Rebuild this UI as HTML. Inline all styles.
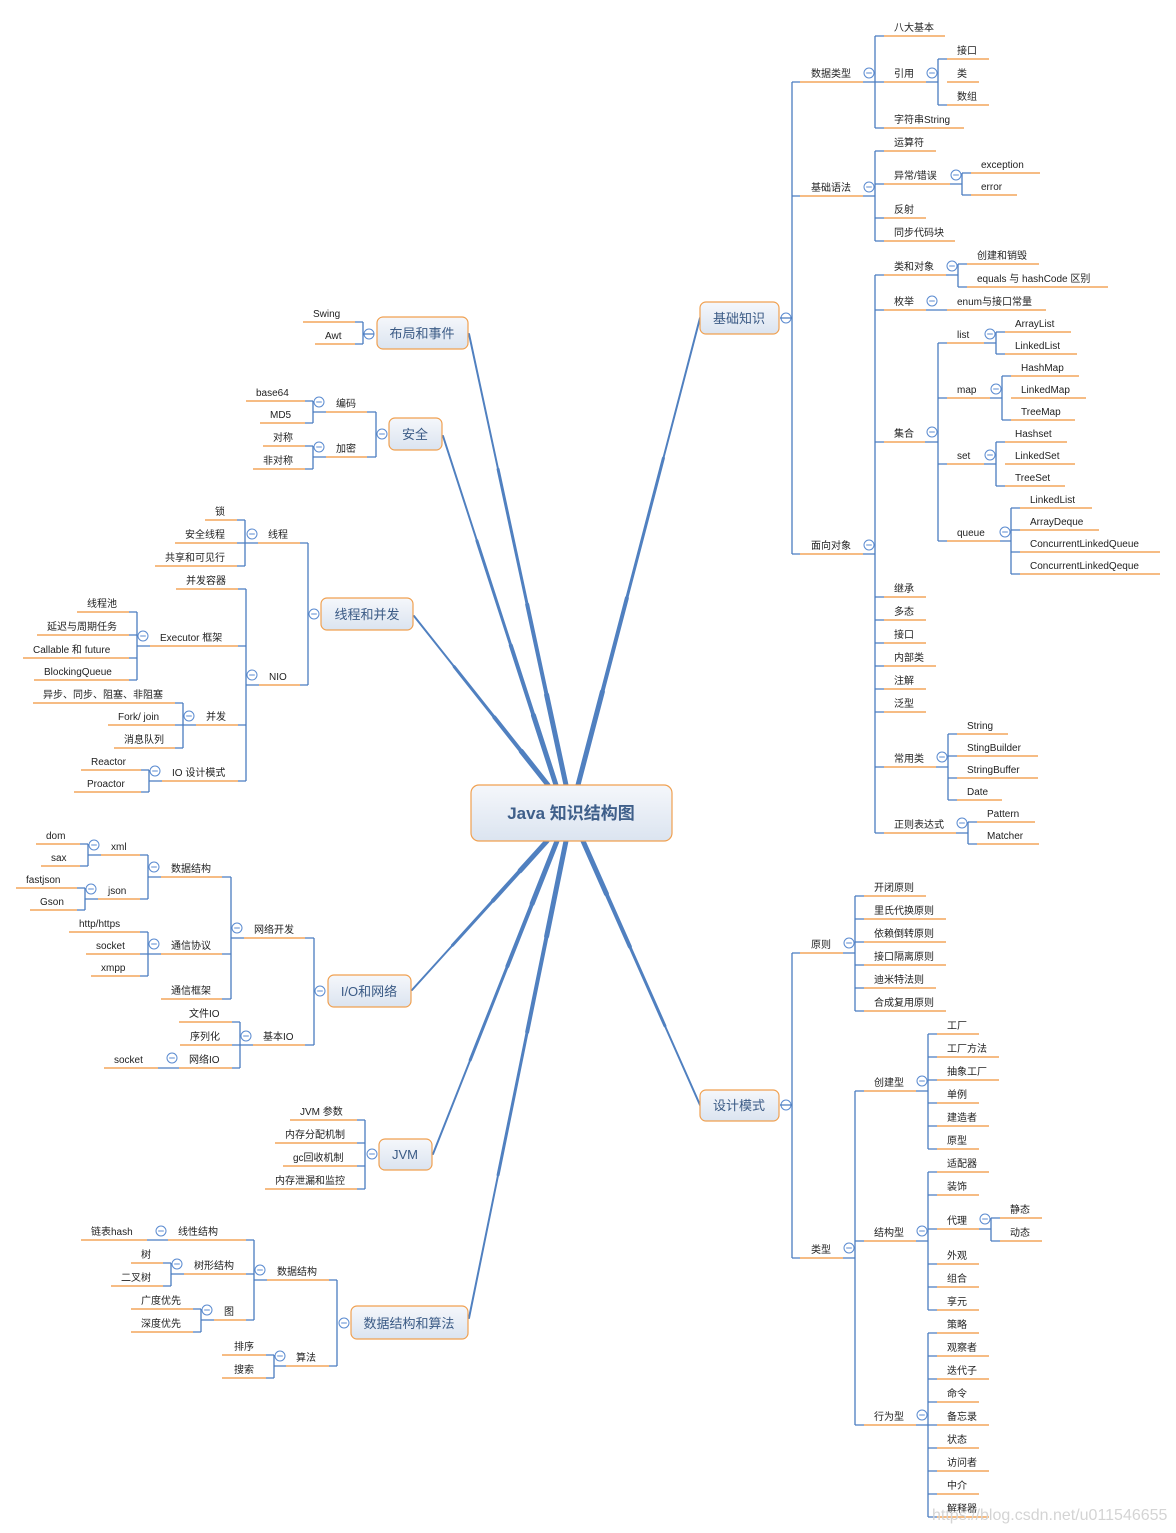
<!DOCTYPE html>
<html><head><meta charset="utf-8"><style>
html,body{margin:0;padding:0;background:#fff}
svg{display:block}
text{font-family:"Liberation Sans","Noto Sans CJK SC",sans-serif;font-size:10px;fill:#222}
.o{stroke:#f0943a;stroke-width:1.3;fill:none}
.b{stroke:#4a7cc0;stroke-width:1.3;fill:none}
.c{stroke:#5b8bd0;stroke-width:1;fill:#fff}
.bx{fill:url(#g);stroke:#f0a050;stroke-width:1.2}
.bt{font-size:13px;fill:#3a5a85;text-anchor:middle}
.t{stroke:#5080c0;fill:none;stroke-linecap:round}
</style></head><body>
<svg width="1176" height="1533" viewBox="0 0 1176 1533" xmlns="http://www.w3.org/2000/svg">
<defs><linearGradient id="g" x1="0" y1="0" x2="0" y2="1"><stop offset="0" stop-color="#f5f7fb"/><stop offset="1" stop-color="#dbe4f0"/></linearGradient>
<g id="m"><circle class="c" r="5"/><path d="M-2.8 0H2.8" stroke="#5b8bd0" stroke-width="1"/></g></defs>

<!-- thick connectors (tapered) -->
<g class="t">
<g stroke-width="2"><path d="M578 785L700 318"/><path d="M566 785L469 334"/><path d="M556 785L443 436"/><path d="M548 785L414 616"/><path d="M547 841L412 990"/><path d="M557 841L433 1154"/><path d="M566 841L469 1318"/><path d="M583 841L700 1105"/></g>
<g stroke-width="3"><path d="M578 785L663.4 458.1"/><path d="M566 785L498.1 469.3"/><path d="M556 785L476.9 540.7"/><path d="M548 785L454.2 666.7"/><path d="M547 841L452.5 945.3"/><path d="M557 841L470.2 1060.1"/><path d="M566 841L498.1 1174.9"/><path d="M583 841L664.9 1025.8"/></g>
<g stroke-width="4"><path d="M578 785L626.8 598.2"/><path d="M566 785L527.2 604.6"/><path d="M556 785L510.8 645.4"/><path d="M548 785L494.4 717.4"/><path d="M547 841L493 900.6"/><path d="M557 841L507.4 966.2"/><path d="M566 841L527.2 1031.8"/><path d="M583 841L629.8 946.6"/></g>
<g stroke-width="5"><path d="M578 785L602.4 691.6"/><path d="M566 785L546.6 694.8"/><path d="M556 785L533.4 715.2"/><path d="M548 785L521.2 751.2"/><path d="M547 841L520 870.8"/><path d="M557 841L532.2 903.6"/><path d="M566 841L546.6 936.4"/><path d="M583 841L606.4 893.8"/></g>
</g>

<!-- center -->
<rect class="bx" x="471" y="785" width="201" height="56" rx="8"/>
<text x="571" y="819" style="font-size:17px;font-weight:bold;fill:#3f5f8a;text-anchor:middle">Java 知识结构图</text>

<!-- ===== 基础知识 ===== -->
<rect class="bx" x="700" y="302" width="79" height="32" rx="6"/><text class="bt" x="739" y="323">基础知识</text>
<use href="#m" x="786" y="318"/>
<path class="b" d="M780 318H792M792 82V554M792 82H800M792 196H800M792 554H800"/>
<path class="o" d="M800 82H863"/><text x="811" y="77">数据类型</text>
<path class="b" d="M863 82H875M875 36V128M875 36H884M875 82H884M875 128H884"/><use href="#m" x="869" y="73"/>
<path class="o" d="M884 36H945"/><text x="894" y="31">八大基本</text>
<path class="o" d="M884 82H926"/><text x="894" y="77">引用</text>
<path class="b" d="M926 82H938M938 59V105M938 59H947M938 105H947"/><use href="#m" x="932" y="73"/>
<path class="o" d="M947 59H989M947 82H979M947 105H989M884 128H964"/>
<text x="957" y="54">接口</text><text x="957" y="77">类</text><text x="957" y="100">数组</text><text x="894" y="123">字符串String</text>
<path class="o" d="M800 196H863"/><text x="811" y="191">基础语法</text>
<path class="b" d="M863 196H875M875 151V241M875 151H884M875 184H884M875 218H884M875 241H884"/><use href="#m" x="869" y="187"/>
<path class="o" d="M884 151H936M884 184H950M884 218H926M884 241H955"/>
<text x="894" y="146">运算符</text><text x="894" y="179">异常/错误</text><text x="894" y="213">反射</text><text x="894" y="236">同步代码块</text>
<path class="b" d="M950 184H962M962 173V195M962 173H971M962 195H971"/><use href="#m" x="956" y="175"/>
<path class="o" d="M971 173H1040M971 195H1017"/><text x="981" y="168">exception</text><text x="981" y="190">error</text>
<path class="o" d="M800 554H863"/><text x="811" y="549">面向对象</text>
<path class="b" d="M863 554H875M875 275V833M875 275H884M875 310H884M875 442H884M875 597H884M875 620H884M875 643H884M875 666H884M875 689H884M875 712H884M875 767H884M875 833H884"/><use href="#m" x="869" y="545"/>
<path class="o" d="M884 275H946"/><text x="894" y="270">类和对象</text>
<path class="b" d="M946 275H958M958 264V287M958 264H967M958 287H967"/><use href="#m" x="952" y="266"/>
<path class="o" d="M967 264H1039M967 287H1108"/><text x="977" y="259">创建和销毁</text><text x="977" y="282">equals 与 hashCode 区别</text>
<path class="o" d="M884 310H926M947 310H1046"/><path class="b" d="M926 310H947"/><use href="#m" x="932" y="301"/>
<text x="894" y="305">枚举</text><text x="957" y="305">enum与接口常量</text>
<path class="o" d="M884 442H925"/><text x="894" y="437">集合</text>
<path class="b" d="M925 442H938M938 343V541M938 343H947M938 398H947M938 464H947M938 541H947"/><use href="#m" x="932" y="432"/>
<path class="o" d="M947 343H984M947 398H990M947 464H984M947 541H1000"/>
<text x="957" y="338">list</text><text x="957" y="393">map</text><text x="957" y="459">set</text><text x="957" y="536">queue</text>
<path class="b" d="M984 343H996M996 332V354M996 332H1005M996 354H1005"/><use href="#m" x="990" y="334"/>
<path class="o" d="M1005 332H1071M1005 354H1077"/><text x="1015" y="327">ArrayList</text><text x="1015" y="349">LinkedList</text>
<path class="b" d="M990 398H1002M1002 376V420M1002 376H1011M1002 420H1011"/><use href="#m" x="996" y="389"/>
<path class="o" d="M1011 376H1079M1011 398H1086M1011 420H1075"/><text x="1021" y="371">HashMap</text><text x="1021" y="393">LinkedMap</text><text x="1021" y="415">TreeMap</text>
<path class="b" d="M984 464H996M996 442V486M996 442H1005M996 486H1005"/><use href="#m" x="990" y="455"/>
<path class="o" d="M1005 442H1067M1005 464H1075M1005 486H1065"/><text x="1015" y="437">Hashset</text><text x="1015" y="459">LinkedSet</text><text x="1015" y="481">TreeSet</text>
<path class="b" d="M1000 541H1011M1011 508V574M1011 508H1020M1011 530H1020M1011 552H1020M1011 574H1020"/><use href="#m" x="1005" y="532"/>
<path class="o" d="M1020 508H1092M1020 530H1099M1020 552H1160M1020 574H1160"/>
<text x="1030" y="503">LinkedList</text><text x="1030" y="525">ArrayDeque</text><text x="1030" y="547">ConcurrentLinkedQueue</text><text x="1030" y="569">ConcurrentLinkedQeque</text>
<path class="o" d="M884 597H926M884 620H926M884 643H926M884 666H936M884 689H926M884 712H926"/>
<text x="894" y="592">继承</text><text x="894" y="615">多态</text><text x="894" y="638">接口</text><text x="894" y="661">内部类</text><text x="894" y="684">注解</text><text x="894" y="707">泛型</text>
<path class="o" d="M884 767H936"/><text x="894" y="762">常用类</text>
<path class="b" d="M936 767H948M948 734V800M948 734H957M948 756H957M948 778H957M948 800H957"/><use href="#m" x="942" y="757"/>
<path class="o" d="M957 734H1008M957 756H1038M957 778H1038M957 800H1002"/>
<text x="967" y="729">String</text><text x="967" y="751">StingBuilder</text><text x="967" y="773">StringBuffer</text><text x="967" y="795">Date</text>
<path class="o" d="M884 833H956"/><text x="894" y="828">正则表达式</text>
<path class="b" d="M956 833H968M968 822V844M968 822H977M968 844H977"/><use href="#m" x="962" y="823"/>
<path class="o" d="M977 822H1035M977 844H1039"/><text x="987" y="817">Pattern</text><text x="987" y="839">Matcher</text>

<!-- ===== 设计模式 ===== -->
<rect class="bx" x="700" y="1090" width="79" height="31" rx="6"/><text class="bt" x="739" y="1110">设计模式</text>
<use href="#m" x="786" y="1105"/>
<path class="b" d="M780 1105H792M792 953V1258M792 953H800M792 1258H800"/>
<path class="o" d="M800 953H843"/><text x="811" y="948">原则</text>
<path class="b" d="M843 953H855M855 896V1011M855 896H864M855 919H864M855 942H864M855 965H864M855 988H864M855 1011H864"/><use href="#m" x="849" y="943"/>
<path class="o" d="M864 896H926M864 919H946M864 942H946M864 965H946M864 988H936M864 1011H946"/>
<text x="874" y="891">开闭原则</text><text x="874" y="914">里氏代换原则</text><text x="874" y="937">依赖倒转原则</text><text x="874" y="960">接口隔离原则</text><text x="874" y="983">迪米特法则</text><text x="874" y="1006">合成复用原则</text>
<path class="o" d="M800 1258H843"/><text x="811" y="1253">类型</text>
<path class="b" d="M843 1258H855M855 1091V1425M855 1091H864M855 1241H864M855 1425H864"/><use href="#m" x="849" y="1248"/>
<path class="o" d="M864 1091H916M864 1241H916M864 1425H916"/>
<text x="874" y="1086">创建型</text><text x="874" y="1236">结构型</text><text x="874" y="1420">行为型</text>
<path class="b" d="M916 1091H928M928 1034V1149M928 1034H937M928 1057H937M928 1080H937M928 1103H937M928 1126H937M928 1149H937"/><use href="#m" x="922" y="1081"/>
<path class="o" d="M937 1034H979M937 1057H999M937 1080H999M937 1103H979M937 1126H989M937 1149H979"/>
<text x="947" y="1029">工厂</text><text x="947" y="1052">工厂方法</text><text x="947" y="1075">抽象工厂</text><text x="947" y="1098">单例</text><text x="947" y="1121">建造者</text><text x="947" y="1144">原型</text>
<path class="b" d="M916 1241H928M928 1172V1310M928 1172H937M928 1195H937M928 1229H937M928 1264H937M928 1287H937M928 1310H937"/><use href="#m" x="922" y="1231"/>
<path class="o" d="M937 1172H989M937 1195H979M937 1229H979M937 1264H979M937 1287H979M937 1310H979"/>
<text x="947" y="1167">适配器</text><text x="947" y="1190">装饰</text><text x="947" y="1224">代理</text><text x="947" y="1259">外观</text><text x="947" y="1282">组合</text><text x="947" y="1305">享元</text>
<path class="b" d="M979 1229H991M991 1218V1241M991 1218H1000M991 1241H1000"/><use href="#m" x="985" y="1219"/>
<path class="o" d="M1000 1218H1042M1000 1241H1042"/><text x="1010" y="1213">静态</text><text x="1010" y="1236">动态</text>
<path class="b" d="M916 1425H928M928 1333V1517M928 1333H937M928 1356H937M928 1379H937M928 1402H937M928 1425H937M928 1448H937M928 1471H937M928 1494H937M928 1517H937"/><use href="#m" x="922" y="1415"/>
<path class="o" d="M937 1333H979M937 1356H989M937 1379H989M937 1402H979M937 1425H989M937 1448H979M937 1471H989M937 1494H979M937 1517H989"/>
<text x="947" y="1328">策略</text><text x="947" y="1351">观察者</text><text x="947" y="1374">迭代子</text><text x="947" y="1397">命令</text><text x="947" y="1420">备忘录</text><text x="947" y="1443">状态</text><text x="947" y="1466">访问者</text><text x="947" y="1489">中介</text><text x="947" y="1512">解释器</text>

<!-- ===== 布局和事件 ===== -->
<rect class="bx" x="377" y="317" width="91" height="32" rx="6"/><text class="bt" x="422" y="338">布局和事件</text>
<use href="#m" x="369" y="334"/>
<path class="b" d="M374 334H363M363 322V344M363 322H355M363 344H355"/>
<path class="o" d="M303 322H355M315 344H355"/><text x="313" y="317">Swing</text><text x="325" y="339">Awt</text>

<!-- ===== 安全 ===== -->
<rect class="bx" x="389" y="418" width="53" height="32" rx="6"/><text class="bt" x="415" y="439">安全</text>
<use href="#m" x="382" y="434"/>
<path class="b" d="M376 412V457M376 412H367M376 457H367"/>
<path class="o" d="M326 412H367M326 457H367"/><text x="336" y="407">编码</text><text x="336" y="452">加密</text>
<path class="b" d="M326 412H313M313 401V423M313 401H305M313 423H305"/><use href="#m" x="319" y="402"/>
<path class="o" d="M246 401H305M260 423H305"/><text x="256" y="396">base64</text><text x="270" y="418">MD5</text>
<path class="b" d="M326 457H313M313 446V469M313 446H305M313 469H305"/><use href="#m" x="319" y="447"/>
<path class="o" d="M263 446H305M253 469H305"/><text x="273" y="441">对称</text><text x="263" y="464">非对称</text>

<!-- ===== 线程和并发 ===== -->
<rect class="bx" x="321" y="598" width="92" height="32" rx="6"/><text class="bt" x="367" y="619">线程和并发</text>
<use href="#m" x="314" y="614"/>
<path class="b" d="M308 543V685M308 543H300M308 685H300"/>
<path class="o" d="M258 543H300M259 685H300"/><text x="268" y="538">线程</text><text x="269" y="680">NIO</text>
<path class="b" d="M258 543H245M245 520V566M245 520H237M245 543H237M245 566H237"/><use href="#m" x="252" y="534"/>
<path class="o" d="M205 520H237M175 543H237M155 566H237"/><text x="215" y="515">锁</text><text x="185" y="538">安全线程</text><text x="165" y="561">共享和可见行</text>
<path class="b" d="M259 685H246M246 589V781M246 589H238M246 646H238M246 725H238M246 781H238"/><use href="#m" x="252" y="675"/>
<path class="o" d="M176 589H238M150 646H238M196 725H238M162 781H238"/>
<text x="186" y="584">并发容器</text><text x="160" y="641">Executor 框架</text><text x="206" y="720">并发</text><text x="172" y="776">IO 设计模式</text>
<path class="b" d="M150 646H137M137 612V680M137 612H129M137 635H129M137 658H129M137 680H129"/><use href="#m" x="143" y="636"/>
<path class="o" d="M77 612H129M37 635H129M23 658H129M34 680H129"/>
<text x="87" y="607">线程池</text><text x="47" y="630">延迟与周期任务</text><text x="33" y="653">Callable 和 future</text><text x="44" y="675">BlockingQueue</text>
<path class="b" d="M196 725H183M183 703V748M183 703H175M183 725H175M183 748H175"/><use href="#m" x="189" y="716"/>
<path class="o" d="M33 703H175M108 725H175M114 748H175"/>
<text x="43" y="698">异步、同步、阻塞、非阻塞</text><text x="118" y="720">Fork/ join</text><text x="124" y="743">消息队列</text>
<path class="b" d="M162 781H149M149 770V792M149 770H141M149 792H141"/><use href="#m" x="155" y="771"/>
<path class="o" d="M81 770H141M74 792H141"/><text x="91" y="765">Reactor</text><text x="87" y="787">Proactor</text>

<!-- ===== I/O和网络 ===== -->
<rect class="bx" x="328" y="975" width="83" height="32" rx="6"/><text class="bt" x="369" y="996">I/O和网络</text>
<use href="#m" x="320" y="991"/>
<path class="b" d="M314 938V1045M314 938H305M314 1045H305"/>
<path class="o" d="M244 938H305M253 1045H305"/><text x="254" y="933">网络开发</text><text x="263" y="1040">基本IO</text>
<path class="b" d="M244 938H231M231 877V999M231 877H222M231 954H222M231 999H222"/><use href="#m" x="237" y="928"/>
<path class="o" d="M161 877H222M161 954H222M161 999H222"/><text x="171" y="872">数据结构</text><text x="171" y="949">通信协议</text><text x="171" y="994">通信框架</text>
<path class="b" d="M161 877H148M148 855V899M148 855H140M148 899H140"/><use href="#m" x="154" y="867"/>
<path class="o" d="M101 855H140M98 899H140"/><text x="111" y="850">xml</text><text x="108" y="894">json</text>
<path class="b" d="M101 855H88M88 844V866M88 844H80M88 866H80"/><use href="#m" x="94" y="845"/>
<path class="o" d="M36 844H80M41 866H80"/><text x="46" y="839">dom</text><text x="51" y="861">sax</text>
<path class="b" d="M98 899H85M85 888V910M85 888H77M85 910H77"/><use href="#m" x="91" y="889"/>
<path class="o" d="M16 888H77M30 910H77"/><text x="26" y="883">fastjson</text><text x="40" y="905">Gson</text>
<path class="b" d="M161 954H148M148 932V976M148 932H140M148 954H140M148 976H140"/><use href="#m" x="154" y="944"/>
<path class="o" d="M69 932H140M86 954H140M91 976H140"/><text x="79" y="927">http/https</text><text x="96" y="949">socket</text><text x="101" y="971">xmpp</text>
<path class="b" d="M253 1045H240M240 1022V1068M240 1022H232M240 1045H232M240 1068H232"/><use href="#m" x="246" y="1036"/>
<path class="o" d="M179 1022H232M180 1045H232M179 1068H232M104 1068H158"/><path class="b" d="M158 1068H179"/><use href="#m" x="172" y="1058"/>
<text x="189" y="1017">文件IO</text><text x="190" y="1040">序列化</text><text x="189" y="1063">网络IO</text><text x="114" y="1063">socket</text>

<!-- ===== JVM ===== -->
<rect class="bx" x="379" y="1139" width="53" height="31" rx="6"/><text class="bt" x="405" y="1159">JVM</text>
<use href="#m" x="372" y="1154"/>
<path class="b" d="M365 1120V1189M365 1120H357M365 1143H357M365 1166H357M365 1189H357"/>
<path class="o" d="M290 1120H357M275 1143H357M283 1166H357M265 1189H357"/>
<text x="300" y="1115">JVM 参数</text><text x="285" y="1138">内存分配机制</text><text x="293" y="1161">gc回收机制</text><text x="275" y="1184">内存泄漏和监控</text>

<!-- ===== 数据结构和算法 ===== -->
<rect class="bx" x="351" y="1306" width="117" height="33" rx="6"/><text class="bt" x="409" y="1328">数据结构和算法</text>
<use href="#m" x="344" y="1323"/>
<path class="b" d="M337 1280V1366M337 1280H329M337 1366H329"/>
<path class="o" d="M267 1280H329M286 1366H329"/><text x="277" y="1275">数据结构</text><text x="296" y="1361">算法</text>
<path class="b" d="M267 1280H254M254 1240V1320M254 1240H246M254 1274H246M254 1320H246"/><use href="#m" x="260" y="1270"/>
<path class="o" d="M168 1240H246M184 1274H246M214 1320H246"/><text x="178" y="1235">线性结构</text><text x="194" y="1269">树形结构</text><text x="224" y="1315">图</text>
<path class="o" d="M81 1240H147"/><path class="b" d="M147 1240H168"/><use href="#m" x="161" y="1231"/><text x="91" y="1235">链表hash</text>
<path class="b" d="M184 1274H171M171 1263V1286M171 1263H163M171 1286H163"/><use href="#m" x="177" y="1264"/>
<path class="o" d="M131 1263H163M111 1286H163"/><text x="141" y="1258">树</text><text x="121" y="1281">二叉树</text>
<path class="b" d="M214 1320H201M201 1309V1332M201 1309H193M201 1332H193"/><use href="#m" x="207" y="1310"/>
<path class="o" d="M131 1309H193M131 1332H193"/><text x="141" y="1304">广度优先</text><text x="141" y="1327">深度优先</text>
<path class="b" d="M286 1366H274M274 1355V1378M274 1355H266M274 1378H266"/><use href="#m" x="280" y="1356"/>
<path class="o" d="M222 1355H266M222 1378H266"/><text x="234" y="1350">排序</text><text x="234" y="1373">搜索</text>

<text x="932" y="1520" style="font-size:16px;fill:#d4d4d4">https://blog.csdn.net/u011546655</text>
</svg>
</body></html>
